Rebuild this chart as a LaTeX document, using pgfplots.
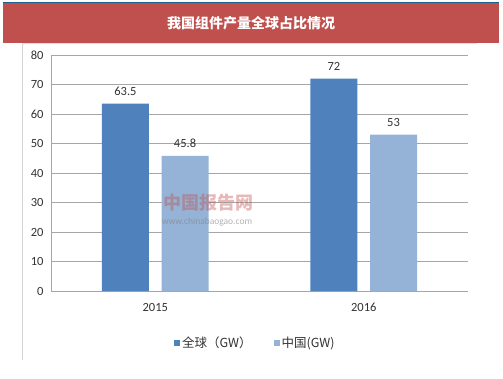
\documentclass[border=0pt]{standalone}
\usepackage{pgfplots}
\pgfplotsset{compat=1.18}
\usepackage{fontspec}
\setmainfont{Carlito}
\newfontfamily\cjk{Noto Sans CJK SC}
\definecolor{barA}{HTML}{4F81BD}
\definecolor{barB}{HTML}{95B3D7}
\definecolor{banner}{HTML}{C0504D}
\definecolor{gridc}{HTML}{A6A6A6}
\definecolor{topline}{HTML}{1F5F8B}
\begin{document}
\begin{tikzpicture}[x=1pt,y=1pt]
\useasboundingbox (0,0) rectangle (503,378);
\fill[white] (0,0) rectangle (503,378);
\fill[banner] (3,335) rectangle (499,375);
\draw[topline, line width=1.2pt] (3,375.6)--(499,375.6);
\draw[gray!35, line width=0.8pt] (22,335)--(22,18);
\draw[gray!25, line width=0.8pt] (22,334.5)--(477,334.5);
\node[white, font=\cjk\bfseries\fontsize{14}{16}\selectfont] at (251,355) {我国组件产量全球占比情况};
\begin{axis}[
  at={(51pt,87pt)}, anchor=south west,
  scale only axis, width=417pt, height=236pt,
  ymin=0, ymax=80, ytick={0,10,...,80},
  xmin=-0.5, xmax=1.5, xtick={0,1}, xticklabels={2015,2016},
  ymajorgrids, grid style={gridc, line width=0.8pt},
  axis x line*=bottom, axis y line*=left,
  axis line style={gridc, line width=0.8pt, -},
  major tick length=0pt,
  /pgf/number format/assume math mode=true,
  tick label style={font=\fontsize{12.5}{14}\selectfont, text=black!80},
  yticklabel style={xshift=-4pt},
  xticklabel style={yshift=-9pt},
  ybar, bar width=0.226,
  nodes near coords,
  every node near coord/.append style={font=\fontsize{12.5}{14}\selectfont, text=black!80, yshift=5pt},
  legend style={at={(0.49,-0.22)}, anchor=center, draw=none, fill=none,
    legend columns=2, font=\cjk\fontsize{12.5}{14}\selectfont, text=black!80,
    /tikz/every even column/.append style={column sep=20pt}},
  legend image code/.code={\fill[#1] (0pt,-3pt) rectangle (6pt,3pt);},
]
\addplot[fill=barA, draw=none, bar shift=-0.143] coordinates {(0,63.5) (1,72)};
\addplot[fill=barB, draw=none, bar shift=0.143] coordinates {(0,45.8) (1,53)};
\legend{全球（GW）, 中国(GW)}
\end{axis}
\node[font=\cjk\bfseries\fontsize{18}{20}\selectfont, text=banner, opacity=0.4] at (208,175) {中国报告网};
\node[font=\fontsize{9.5}{10}\selectfont, text=gray, opacity=0.6] at (207,156) {www.chinabaogao.com};
\end{tikzpicture}
\end{document}
